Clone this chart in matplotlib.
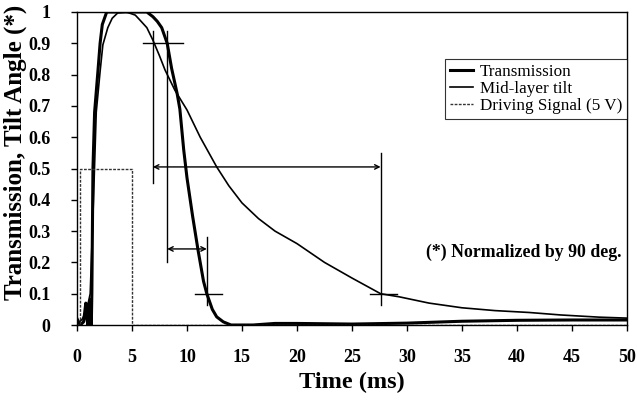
import matplotlib
matplotlib.use("Agg")
import matplotlib.pyplot as plt

plt.rcParams['font.family'] = ['Liberation Serif', 'DejaVu Serif']

# Transmission (thick line)
trans_t = [0, 0.3, 0.6, 0.8, 0.9, 1.0, 1.1, 1.2, 1.3, 1.35, 1.45, 1.6, 1.9, 2.1, 2.3, 2.7,
           3.5, 5, 6.35, 6.9, 7.3, 7.7, 8.2, 8.6, 9.1, 9.35, 9.7, 10.0, 10.5, 11.0, 11.5,
           11.8, 12.3, 12.7, 13.3, 14, 16, 18, 20, 25, 30, 35, 40, 45, 50]
trans_v = [0.02, 0.0, 0.01, 0.07, 0.02, 0.0, 0.07, 0.08, 0.0, 0.1, 0.5, 0.68, 0.81, 0.9,
           0.96, 1.0, 1.0, 1.0, 1.0, 0.985, 0.97, 0.95, 0.9, 0.82, 0.74, 0.69, 0.56, 0.47,
           0.35, 0.24, 0.14, 0.1, 0.05, 0.026, 0.01, 0.0, 0.0, 0.005, 0.005, 0.003, 0.006,
           0.012, 0.015, 0.016, 0.016]

# Mid-layer tilt (thin line)
tilt_t = [0, 0.5, 0.9, 1.2, 1.5, 1.75, 2.1, 2.35, 2.8, 3.2, 3.7, 4.5, 5.3, 5.7, 6.35,
          6.9, 7.5, 8.0, 8.9, 10.0, 11.2, 12.7, 13.8, 15.0, 16.5, 18, 20, 22.5, 25,
          27.6, 29.3, 32, 35, 38, 41.1, 44, 47.5, 50]
tilt_v = [0.0, 0.02, 0.05, 0.1, 0.4, 0.68, 0.81, 0.895, 0.95, 0.98, 0.997, 1.0, 0.99,
          0.975, 0.95, 0.91, 0.86, 0.815, 0.75, 0.687, 0.60, 0.505, 0.445, 0.39, 0.34,
          0.3, 0.26, 0.2, 0.15, 0.1, 0.09, 0.07, 0.055, 0.046, 0.04, 0.032, 0.025, 0.022]

# Driving signal (5 V), normalized
drive_t = [0, 0.25, 0.25, 5, 5, 50]
drive_v = [0, 0, 0.5, 0.5, 0, 0]

xticks = [0, 5, 10, 15, 20, 25, 30, 35, 40, 45, 50]
yticks = [0, 0.1, 0.2, 0.3, 0.4, 0.5, 0.6, 0.7, 0.8, 0.9, 1]
ytick_labels = ['0', '0.1', '0.2', '0.3', '0.4', '0.5', '0.6', '0.7', '0.8', '0.9', '1']

fig = plt.figure(figsize=(6.37, 4.01), dpi=100)
ax = fig.add_axes([77/637, 1 - 325/401, (627 - 77)/637, (325 - 12)/401])

ax.plot(trans_t, trans_v, color='black', lw=2.2, label='Transmission')
ax.plot(tilt_t, tilt_v, color='black', lw=1.2, label='Mid-layer tilt')
ax.plot(drive_t, drive_v, color='#333333', lw=1.0, linestyle=(0, (2, 1)),
        label='Driving Signal (5 V)')

# annotation lines
lk = dict(color='black', lw=1.0)
ax.plot([6.9, 6.9], [0.455, 0.94], **lk)
ax.plot([8.2, 8.2], [0.2, 0.94], **lk)
ax.plot([6.0, 9.6], [0.9, 0.9], **lk)
ax.plot([27.6, 27.6], [0.065, 0.55], **lk)
ax.plot([26.6, 29.1], [0.1, 0.1], **lk)
ax.plot([11.8, 11.8], [0.065, 0.28], **lk)
ax.plot([10.7, 13.2], [0.1, 0.1], **lk)
ax.annotate('', xy=(6.9, 0.505), xytext=(27.6, 0.505),
            arrowprops=dict(arrowstyle='<->', color='black', lw=1.0,
                            shrinkA=0, shrinkB=0, mutation_scale=8))
ax.annotate('', xy=(8.2, 0.243), xytext=(11.8, 0.243),
            arrowprops=dict(arrowstyle='<->', color='black', lw=1.0,
                            shrinkA=0, shrinkB=0, mutation_scale=8))

ax.text(49.5, 0.233, '(*) Normalized by 90 deg.', ha='right', va='center',
        fontsize=12.8, fontweight='bold')

ax.set_xlim(0, 50)
ax.set_ylim(0, 1)
ax.set_xticks(xticks)
ax.set_xticklabels([str(x) for x in xticks], fontsize=13, fontweight='bold')
ax.set_yticks(yticks)
ax.set_yticklabels(ytick_labels, fontsize=13, fontweight='bold')
ax.tick_params(direction='out', length=4, width=1)
ax.tick_params(axis='x', pad=13)
ax.tick_params(axis='y', pad=15)
for s in ax.spines.values():
    s.set_linewidth(1.0)

ax.set_xlabel('Time (ms)', fontsize=17.5, fontweight='bold')
ax.set_ylabel('Transmission, Tilt Angle (*)', fontsize=18, fontweight='bold')
ax.xaxis.set_label_coords(0.5, -0.15)
ax.yaxis.set_label_coords(-0.09, 0.553)

leg = ax.legend(loc='upper right', bbox_to_anchor=(1.0, 0.85), borderaxespad=0,
                fontsize=12.3, frameon=True, fancybox=False, edgecolor='black',
                labelspacing=0.05, handlelength=1.3, handletextpad=0.4,
                borderpad=0.3)
leg.get_frame().set_linewidth(0.8)

fig.savefig('out.png', dpi=100)
